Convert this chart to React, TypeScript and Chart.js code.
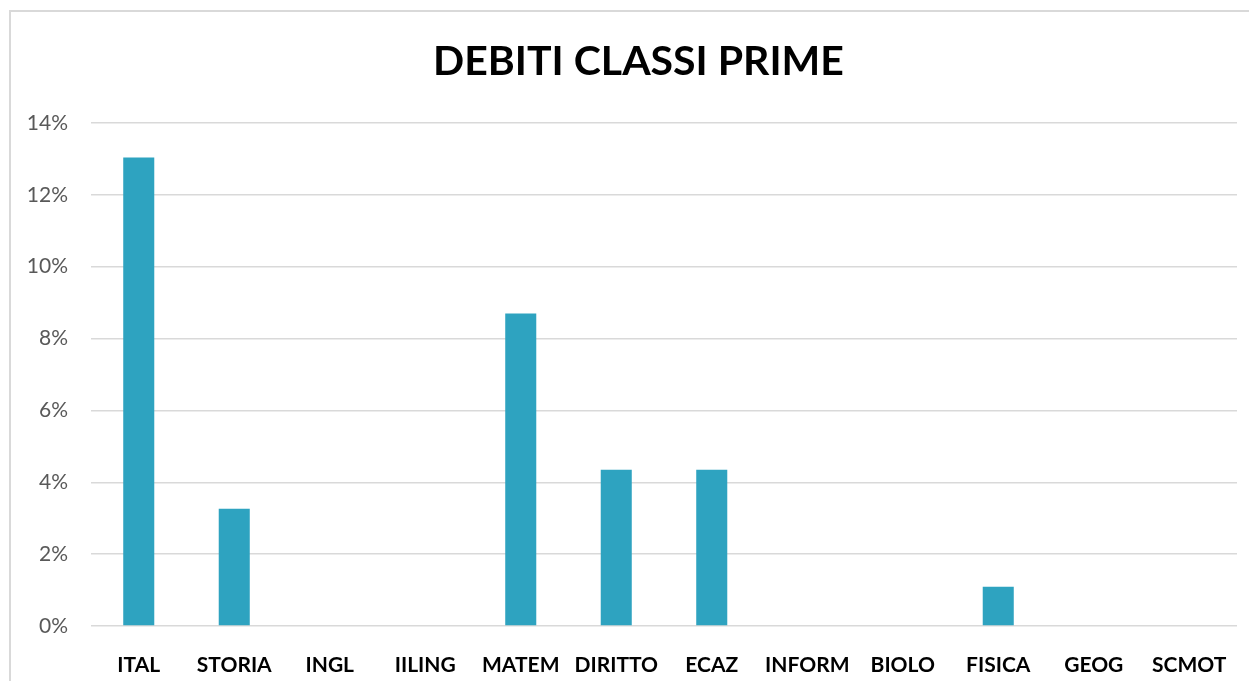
import React, { useEffect, useRef } from "react";
import { Chart, registerables } from "chart.js";

Chart.register(...registerables);

const categories = ["ITAL", "STORIA", "INGL", "IILING", "MATEM", "DIRITTO", "ECAZ", "INFORM", "BIOLO", "FISICA", "GEOG", "SCMOT"];
const values = [13.04, 3.26, 0, 0, 8.7, 4.35, 4.35, 0, 0, 1.09, 0, 0];
const titleText = "DEBITI CLASSI PRIME";

const titlePlugin = {
  id: "customTitle",
  afterDraw(chart: any) {
    const ctx = chart.ctx;
    ctx.save();
    ctx.font = "bold 41px Lato";
    ctx.fillStyle = "#000000";
    ctx.textAlign = "center";
    ctx.textBaseline = "middle";
    ctx.fillText(titleText, 638.5, 62);
    ctx.restore();
  },
};

export default function App() {
  const ref = useRef<HTMLCanvasElement>(null);
  useEffect(() => {
    if (!ref.current) return;
    const chart = new Chart(ref.current, {
      type: "bar",
      data: {
        labels: categories,
        datasets: [
          {
            data: values,
            backgroundColor: "#2ea3c0",
            borderWidth: 0,
            barPercentage: 0.65,
            categoryPercentage: 0.5,
          },
        ],
      },
      plugins: [titlePlugin],
      options: {
        responsive: false,
        animation: false,
        layout: { padding: { left: 0, right: 12, top: 123, bottom: 0 } },
        plugins: {
          legend: { display: false },
          tooltip: { enabled: false },
          title: { display: false },
        },
        scales: {
          x: {
            grid: { display: false },
            border: { display: false },
            ticks: {
              color: "#000000",
              font: { family: "Lato", size: 21, weight: "bold" },
              padding: 19,
              maxRotation: 0,
              autoSkip: false,
            },
            afterFit: (s: any) => {
              s.height = 55;
            },
          },
          y: {
            min: 0,
            max: 14,
            grid: { color: "#d9d9d9", lineWidth: 1.5, drawTicks: false },
            border: { display: false },
            ticks: {
              stepSize: 2,
              color: "#595959",
              font: { family: "Lato", size: 21 },
              padding: 23,
              callback: (v: any) => v + "%",
            },
            afterFit: (s: any) => {
              s.width = 91;
            },
          },
        },
      },
    });
    return () => chart.destroy();
  }, []);
  return (
    <div style={{ position: "absolute", left: 0, top: 0, width: 1249, height: 681, overflow: "hidden", background: "#fff" }}>
      <div style={{ position: "absolute", left: 9, top: 10, width: 1300, height: 700, border: "2px solid #d9d9d9" }} />
      <canvas ref={ref} width={1249} height={681} style={{ position: "absolute", left: 0, top: 0 }} />
    </div>
  );
}
